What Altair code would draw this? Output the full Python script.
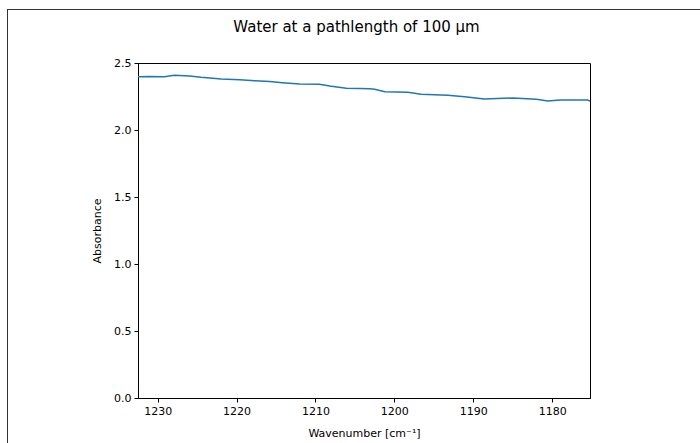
import altair as alt
import pandas as pd

wavenumber = [1232.6, 1231.05, 1229.15, 1227.9, 1225.98, 1224.5, 1221.95, 1219.6,
              1217.7, 1215.8, 1214.2, 1212.0, 1209.5, 1208.2, 1206.1, 1204.4,
              1203.1, 1202.5, 1201.2, 1198.3, 1196.6, 1193.2, 1191.1, 1188.6,
              1185.0, 1182.0, 1180.55, 1179.0, 1175.5, 1175.2]
absorbance = [2.398, 2.399, 2.397, 2.408, 2.403, 2.393, 2.381, 2.375,
              2.368, 2.362, 2.353, 2.343, 2.341, 2.328, 2.311, 2.310,
              2.308, 2.304, 2.286, 2.281, 2.266, 2.259, 2.249, 2.231,
              2.239, 2.229, 2.216, 2.224, 2.224, 2.216]
x_ticks = [1230, 1220, 1210, 1200, 1190, 1180]
y_ticks = [0.0, 0.5, 1.0, 1.5, 2.0, 2.5]
title_text = "Water at a pathlength of 100 μm"

df = pd.DataFrame({"wn": wavenumber, "abs": absorbance})
one = pd.DataFrame({"t": [title_text]})

FONT = "DejaVu Sans"

line = alt.Chart(df).mark_line(color="#1f77b4", strokeWidth=1.5, clip=True).encode(
    x=alt.X("wn:Q",
            scale=alt.Scale(domain=[1232.5, 1175.2], nice=False, zero=False),
            axis=alt.Axis(values=x_ticks, format="d", title="Wavenumber [cm⁻¹]",
                          grid=False)),
    y=alt.Y("abs:Q",
            scale=alt.Scale(domain=[0, 2.5], nice=False),
            axis=alt.Axis(values=y_ticks, format=".1f", title="Absorbance",
                          grid=False)),
)

# figure frame (matplotlib-style figure border, partially cropped)
frame_top = alt.Chart(one).mark_rule(color="#333333", strokeWidth=1).encode(
    x=alt.value(-130), x2=alt.value(700), y=alt.value(-53.5))
frame_left = alt.Chart(one).mark_rule(color="#333333", strokeWidth=1).encode(
    x=alt.value(-130.5), y=alt.value(-54), y2=alt.value(500))

title = alt.Chart(one).mark_text(font=FONT, fontSize=15, color="black",
                                 align="center", baseline="middle").encode(
    x=alt.value(218.5), y=alt.value(-36), text="t:N")

chart = alt.layer(frame_top, frame_left, line, title).properties(
    width=452, height=335,
    padding={"left": 138, "top": 63, "right": 110, "bottom": 45},
    autosize=alt.AutoSizeParams(type="none"),
).configure_view(stroke="black", strokeWidth=1).configure_axis(
    labelFont=FONT, titleFont=FONT, labelFontSize=11, titleFontSize=11,
    titleFontWeight="normal", labelColor="black", titleColor="black",
    domainColor="black", tickColor="black", tickSize=4, labelPadding=3,
).configure_axisX(titlePadding=11).configure_axisY(titlePadding=11)

chart.save("out.html", embed_options={"renderer": "svg", "actions": False})
